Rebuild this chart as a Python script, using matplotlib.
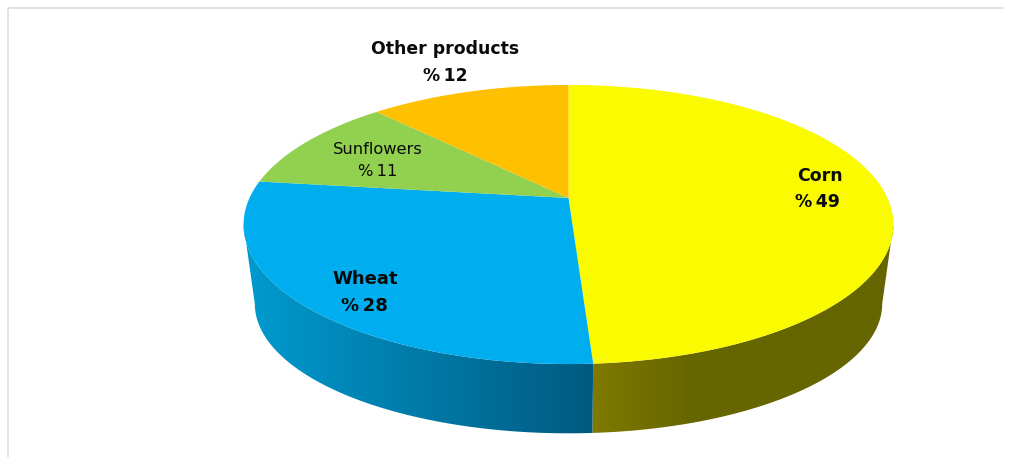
import numpy as np
import matplotlib
matplotlib.use("Agg")
import matplotlib.pyplot as plt
from matplotlib.patches import Polygon

# data
products = ["Corn", "Wheat", "Sunflowers", "Other products"]
shares = [49, 28, 11, 12]

# style
top_colors = ["#FAFA00", "#00AEEF", "#92D050", "#FFC000"]
wall_x = {"Corn": [593, 690, 895], "Wheat": [243, 593]}
wall_rgb = {"Corn": [(128, 122, 0), (102, 102, 0), (102, 102, 0)],
            "Wheat": [(0, 155, 208), (0, 90, 128)]}
# name x, name y, percent x, percent y
label_pos = [(820, 176, 817, 202), (365, 279, 364, 306), (378, 150, 378, 171), (445, 49, 445, 76)]
label_size = [12.5, 13, 11.7, 12.4]
label_weight = ["bold", "bold", "normal", "bold"]

CX = 568.5
K = 0.19
# the wall is only seen between the two widest points of the top face
WALL_FROM = np.arccos(-K)
WALL_TO = 2 * np.pi - WALL_FROM


def disc_xy(t, a, b, y0):
    # circle seen in perspective, t is clockwise from the top
    w = 1 + K * np.cos(t)
    return CX + a * np.sin(t) / w, y0 - b * np.cos(t) / w


def top_xy(t):
    return disc_xy(t, 319, 134.5, 198)


def bottom_xy(t):
    return disc_xy(t, 308, 125, 279)


fig = plt.figure(figsize=(10.2, 4.57), dpi=100)
ax = fig.add_axes([0, 0, 1, 1])
ax.set_xlim(0, 1020)
ax.set_ylim(457, 0)
ax.axis("off")

# light frame of the screenshot
ax.plot([8, 8, 1003], [457, 7.5, 7.5], color="#DDDDDD", lw=1.2)

edges = np.cumsum([0] + shares) / sum(shares) * 2 * np.pi

# side wall, horizontal gradient clipped to the wall outline
xs = np.arange(230, 910)
for i, name in enumerate(products):
    if name not in wall_x:
        continue
    ts = np.linspace(max(edges[i], WALL_FROM), min(edges[i + 1], WALL_TO), 200)
    xt, yt = top_xy(ts)
    xb, yb = bottom_xy(ts)
    outline = np.column_stack([np.append(xt, xb[::-1]), np.append(yt, yb[::-1])])
    patch = Polygon(outline, closed=True, facecolor="none", edgecolor="none", zorder=2)
    ax.add_patch(patch)
    grad = np.array([[np.interp(xs, wall_x[name], [c[n] for c in wall_rgb[name]]) / 255 for n in range(3)]])
    grad = np.transpose(grad, (0, 2, 1))
    im = ax.imshow(grad, extent=[xs[0], xs[-1], 457, 0], aspect="auto", zorder=2, interpolation="bilinear")
    im.set_clip_path(patch)

ax.set_xlim(0, 1020)
ax.set_ylim(457, 0)

# top face
for i, name in enumerate(products):
    ts = np.linspace(edges[i], edges[i + 1], 200)
    x, y = top_xy(ts)
    pts = np.column_stack([np.append(x, CX), np.append(y, 198)])
    ax.add_patch(Polygon(pts, closed=True, facecolor=top_colors[i], edgecolor="none", zorder=3))

# labels
for i, name in enumerate(products):
    nx, ny, px, py = label_pos[i]
    for txt, lx, ly in ((name, nx, ny), (f"%\u2009{shares[i]}", px, py)):
        ax.text(lx, ly, txt, ha="center", va="center", fontsize=label_size[i],
                fontweight=label_weight[i], family=["DejaVu Sans"],
                color="#0A0A0A", zorder=4)

fig.savefig("out.png", dpi=100)
